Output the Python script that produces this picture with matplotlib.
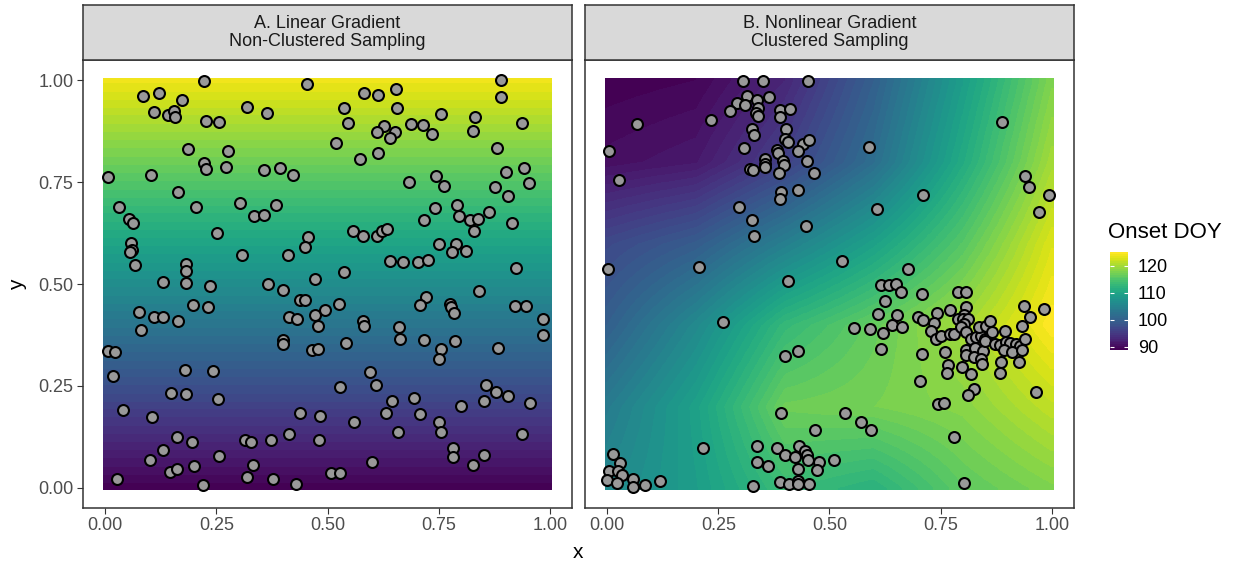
import numpy as np
import matplotlib
matplotlib.use("Agg")
import matplotlib.pyplot as plt
from matplotlib.patches import Rectangle
from matplotlib.colors import Normalize
from matplotlib.cm import ScalarMappable

plt.rcParams['font.family'] = ['Liberation Sans', 'DejaVu Sans']

# sample sites, panel A (non-clustered)
a_sites = [
    (0.223, 0.999), (0.453, 0.991), (0.084, 0.962), (0.121, 0.970), (0.172, 0.952),
    (0.110, 0.923), (0.142, 0.916), (0.155, 0.925), (0.157, 0.911), (0.318, 0.935),
    (0.363, 0.921), (0.227, 0.900), (0.255, 0.898), (0.187, 0.832), (0.277, 0.826),
    (0.223, 0.797), (0.227, 0.782), (0.271, 0.787), (0.007, 0.763), (0.102, 0.768),
    (0.358, 0.779), (0.393, 0.785), (0.423, 0.767), (0.164, 0.725), (0.031, 0.688),
    (0.204, 0.689), (0.304, 0.698), (0.384, 0.693), (0.335, 0.668), (0.358, 0.669),
    (0.053, 0.660), (0.062, 0.649), (0.252, 0.625), (0.457, 0.615), (0.450, 0.591),
    (0.057, 0.600), (0.061, 0.584), (0.056, 0.578), (0.307, 0.571), (0.411, 0.571),
    (0.066, 0.547), (0.181, 0.550), (0.181, 0.533), (0.473, 0.513), (0.131, 0.504),
    (0.181, 0.503), (0.236, 0.495), (0.367, 0.501), (0.401, 0.486),
    (0.891, 1.000), (0.890, 0.958), (0.581, 0.968), (0.614, 0.963), (0.654, 0.978),
    (0.656, 0.931), (0.538, 0.931), (0.547, 0.896), (0.628, 0.888), (0.611, 0.873),
    (0.651, 0.873), (0.640, 0.859), (0.688, 0.892), (0.715, 0.890), (0.734, 0.869),
    (0.755, 0.918), (0.831, 0.909), (0.827, 0.875), (0.938, 0.895), (0.518, 0.847),
    (0.613, 0.822), (0.574, 0.808), (0.882, 0.833), (0.901, 0.776), (0.941, 0.785),
    (0.953, 0.749), (0.877, 0.738), (0.906, 0.715), (0.684, 0.750), (0.744, 0.764),
    (0.762, 0.741), (0.741, 0.687), (0.791, 0.693), (0.796, 0.667), (0.820, 0.656),
    (0.839, 0.660), (0.863, 0.678), (0.829, 0.630), (0.914, 0.651), (0.718, 0.656),
    (0.558, 0.631), (0.580, 0.617), (0.611, 0.618), (0.622, 0.629), (0.634, 0.635),
    (0.751, 0.599), (0.790, 0.599), (0.779, 0.578), (0.811, 0.582), (0.641, 0.557),
    (0.669, 0.553), (0.704, 0.554), (0.727, 0.560), (0.925, 0.540), (0.536, 0.529),
    (0.439, 0.460), (0.450, 0.460), (0.197, 0.449), (0.232, 0.443), (0.077, 0.431),
    (0.109, 0.418), (0.131, 0.418), (0.164, 0.408), (0.080, 0.387), (0.414, 0.418),
    (0.432, 0.414), (0.472, 0.425), (0.494, 0.437), (0.479, 0.398), (0.400, 0.363),
    (0.401, 0.352), (0.466, 0.337), (0.478, 0.340), (0.007, 0.336), (0.023, 0.334),
    (0.018, 0.275), (0.180, 0.290), (0.243, 0.287), (0.149, 0.233), (0.181, 0.230),
    (0.253, 0.218), (0.041, 0.190), (0.105, 0.174), (0.438, 0.184), (0.483, 0.176),
    (0.161, 0.124), (0.196, 0.113), (0.314, 0.118), (0.328, 0.113), (0.372, 0.117),
    (0.414, 0.132), (0.480, 0.116), (0.131, 0.092), (0.101, 0.067), (0.256, 0.077),
    (0.146, 0.038), (0.162, 0.045), (0.199, 0.052), (0.333, 0.055), (0.320, 0.026),
    (0.377, 0.021), (0.429, 0.008), (0.219, 0.007), (0.027, 0.020),
    (0.840, 0.482), (0.721, 0.468), (0.707, 0.448), (0.776, 0.450), (0.778, 0.444),
    (0.784, 0.430), (0.921, 0.446), (0.946, 0.447), (0.985, 0.414), (0.985, 0.375),
    (0.526, 0.452), (0.580, 0.408), (0.581, 0.398), (0.661, 0.395), (0.662, 0.366),
    (0.718, 0.362), (0.755, 0.340), (0.751, 0.317), (0.786, 0.360), (0.883, 0.342),
    (0.542, 0.356), (0.596, 0.285), (0.610, 0.252), (0.527, 0.248), (0.644, 0.213),
    (0.632, 0.184), (0.695, 0.221), (0.709, 0.181), (0.751, 0.162), (0.756, 0.136),
    (0.800, 0.200), (0.857, 0.251), (0.880, 0.236), (0.907, 0.226), (0.853, 0.212),
    (0.956, 0.209), (0.559, 0.160), (0.659, 0.136), (0.937, 0.132), (0.783, 0.098),
    (0.782, 0.074), (0.852, 0.081), (0.827, 0.055), (0.601, 0.063), (0.507, 0.035),
    (0.527, 0.035),
]

# sample sites, panel B (clustered)
b_sites = [
    (0.306, 0.999), (0.351, 0.999), (0.451, 0.998), (0.315, 0.962), (0.336, 0.952),
    (0.365, 0.960), (0.293, 0.944), (0.311, 0.940), (0.277, 0.926), (0.339, 0.933),
    (0.334, 0.919), (0.339, 0.912), (0.388, 0.927), (0.412, 0.930), (0.388, 0.911),
    (0.233, 0.902), (0.066, 0.893), (0.325, 0.880), (0.330, 0.865), (0.402, 0.880),
    (0.401, 0.857), (0.407, 0.849), (0.440, 0.844), (0.453, 0.853), (0.429, 0.827),
    (0.308, 0.833), (0.383, 0.828), (0.384, 0.822), (0.005, 0.826), (0.355, 0.807),
    (0.354, 0.795), (0.354, 0.787), (0.395, 0.801), (0.397, 0.791), (0.450, 0.803),
    (0.465, 0.772), (0.321, 0.782), (0.327, 0.780), (0.387, 0.772), (0.026, 0.756),
    (0.392, 0.726), (0.388, 0.709), (0.430, 0.730), (0.297, 0.690), (0.326, 0.657),
    (0.330, 0.617), (0.447, 0.643), (0.001, 0.538), (0.207, 0.541), (0.407, 0.508),
    (0.887, 0.898), (0.589, 0.836), (0.940, 0.764), (0.948, 0.739), (0.994, 0.718),
    (0.971, 0.677), (0.711, 0.719), (0.606, 0.683), (0.528, 0.557), (0.676, 0.536),
    (0.260, 0.407), (0.401, 0.323), (0.430, 0.336), (0.392, 0.184), (0.468, 0.142),
    (0.215, 0.098), (0.013, 0.083), (0.028, 0.061), (0.005, 0.040), (0.024, 0.040),
    (0.033, 0.032), (0.000, 0.019), (0.022, 0.012), (0.058, 0.020), (0.057, 0.002),
    (0.085, 0.007), (0.119, 0.017), (0.327, 0.005), (0.336, 0.102), (0.336, 0.064),
    (0.361, 0.054), (0.382, 0.097), (0.399, 0.080), (0.423, 0.074), (0.432, 0.102),
    (0.444, 0.089), (0.450, 0.080), (0.451, 0.069), (0.476, 0.064), (0.471, 0.043),
    (0.429, 0.046), (0.388, 0.015), (0.408, 0.010), (0.430, 0.017), (0.430, 0.009),
    (0.453, 0.009), (0.510, 0.069),
    (0.615, 0.497), (0.633, 0.497), (0.649, 0.500), (0.661, 0.481), (0.707, 0.475),
    (0.788, 0.481), (0.807, 0.481), (0.624, 0.459), (0.609, 0.427), (0.651, 0.423),
    (0.556, 0.391), (0.591, 0.390), (0.621, 0.380), (0.641, 0.400), (0.664, 0.395),
    (0.615, 0.340), (0.699, 0.420), (0.711, 0.412), (0.741, 0.430), (0.734, 0.405),
    (0.729, 0.385), (0.772, 0.435), (0.807, 0.443), (0.803, 0.423), (0.788, 0.413),
    (0.800, 0.413), (0.811, 0.414), (0.803, 0.402), (0.739, 0.366), (0.751, 0.373),
    (0.771, 0.377), (0.781, 0.377), (0.795, 0.394), (0.806, 0.381), (0.819, 0.365),
    (0.830, 0.369), (0.841, 0.373), (0.849, 0.366), (0.837, 0.394), (0.851, 0.398),
    (0.862, 0.408), (0.866, 0.381), (0.807, 0.338), (0.806, 0.325), (0.828, 0.342),
    (0.826, 0.321), (0.845, 0.336), (0.841, 0.315), (0.843, 0.303), (0.850, 0.359),
    (0.872, 0.352), (0.883, 0.350), (0.896, 0.357), (0.907, 0.354), (0.919, 0.352),
    (0.928, 0.348), (0.895, 0.385), (0.892, 0.337), (0.911, 0.333), (0.934, 0.337),
    (0.939, 0.365), (0.934, 0.396), (0.952, 0.420), (0.937, 0.446), (0.982, 0.439),
    (0.927, 0.308), (0.885, 0.308), (0.884, 0.281), (0.760, 0.334), (0.709, 0.329),
    (0.766, 0.302), (0.764, 0.282), (0.797, 0.296), (0.819, 0.278), (0.703, 0.263),
    (0.826, 0.242), (0.811, 0.228), (0.964, 0.235), (0.743, 0.205), (0.757, 0.208),
    (0.534, 0.183), (0.571, 0.160), (0.594, 0.142), (0.779, 0.125), (0.803, 0.012),
]

# onset DOY surface
a_field_y = [0.0, 0.5, 1.0]
a_field_doy = [89.0, 106.5, 124.0]

b_field_x = [0.0, 0.2, 0.4, 0.6, 0.8, 1.0]
b_field_y = [0.0, 0.2, 0.4, 0.6, 0.8, 1.0]
b_field_doy = [  # rows go bottom (y=0) to top (y=1)
    [106.0, 109.0, 113.5, 112.0, 116.0, 118.0],
    [104.0, 109.5, 117.0, 117.5, 118.5, 121.5],
    [100.0, 106.0, 113.0, 116.5, 120.0, 125.0],
    [97.0, 99.5, 104.5, 109.5, 115.5, 123.0],
    [90.5, 91.5, 96.0, 102.0, 111.0, 120.0],
    [89.0, 89.5, 93.0, 100.0, 109.0, 118.0],
]

doy_min, doy_max = 88.8, 125.2
cbar_ticks = [90, 100, 110, 120]
axis_ticks = [0.0, 0.25, 0.5, 0.75, 1.0]
axis_ticklabels = ["0.00", "0.25", "0.50", "0.75", "1.00"]
strip_titles = ["A. Linear Gradient\nNon-Clustered Sampling",
                "B. Nonlinear Gradient\nClustered Sampling"]

W, H = 1235, 565
fig = plt.figure(figsize=(W / 100, H / 100), dpi=100)

cmap = matplotlib.colormaps['viridis'].resampled(52)
norm = Normalize(vmin=doy_min, vmax=doy_max)
frame_col = '#333333'
text_col = '#4D4D4D'


def fig_rect(x0, y0, x1, y1):
    # pixel box (top-left origin) -> figure fraction rect
    return [x0 / W, 1 - y1 / H, (x1 - x0) / W, (y1 - y0) / H]


panel_px = [(83, 60, 572, 508), (585, 60, 1074, 508)]
axes = []
for i, (x0, y0, x1, y1) in enumerate(panel_px):
    ax = fig.add_axes(fig_rect(x0, y0, x1, y1))
    ax.set_xlim(-0.05, 1.05)
    ax.set_ylim(-0.05, 1.05)
    for sp in ax.spines.values():
        sp.set_color(frame_col)
        sp.set_linewidth(1.1)
    ax.set_xticks(axis_ticks)
    ax.set_xticklabels(axis_ticklabels)
    ax.tick_params(axis='both', length=4.3, width=0.8, color=frame_col,
                   labelcolor=text_col, labelsize=13, pad=2.5)
    if i == 0:
        ax.set_yticks(axis_ticks)
        ax.set_yticklabels(axis_ticklabels)
    else:
        ax.set_yticks([])
    axes.append(ax)

    # strip on top
    sx = fig.add_axes(fig_rect(x0, 5, x1, y0))
    sx.set_facecolor('#D9D9D9')
    sx.set_xticks([])
    sx.set_yticks([])
    for sp in sx.spines.values():
        sp.set_color(frame_col)
        sp.set_linewidth(1.1)
    sx.text(0.5, 0.5, strip_titles[i], ha='center', va='center',
            fontsize=13, color='#1A1A1A', linespacing=1.15, transform=sx.transAxes)

# panel A raster
axA, axB = axes
half = (a_field_y[1] - a_field_y[0]) / 2
imA = axA.imshow(np.array(a_field_doy)[:, None], origin='lower', cmap=cmap, norm=norm,
                 extent=[-0.01, 1.01, a_field_y[0] - half, a_field_y[-1] + half],
                 aspect='auto', interpolation='bilinear', interpolation_stage='data')
imA.set_clip_path(Rectangle((-0.005, -0.005), 1.01, 1.01, transform=axA.transData))

# panel B raster
hx = (b_field_x[1] - b_field_x[0]) / 2
hy = (b_field_y[1] - b_field_y[0]) / 2
imB = axB.imshow(np.array(b_field_doy), origin='lower', cmap=cmap, norm=norm,
                 extent=[b_field_x[0] - hx, b_field_x[-1] + hx, b_field_y[0] - hy, b_field_y[-1] + hy],
                 aspect='auto', interpolation='bilinear', interpolation_stage='data')
imB.set_clip_path(Rectangle((-0.005, -0.005), 1.01, 1.01, transform=axB.transData))

for ax, sites in [(axA, a_sites), (axB, b_sites)]:
    pts = np.array(sites)
    ax.scatter(pts[:, 0], pts[:, 1], s=62, facecolor='#999999', edgecolor='black',
               linewidths=1.5, zorder=3)
    ax.set_xlim(-0.05, 1.05)
    ax.set_ylim(-0.05, 1.05)

fig.text(578 / W, 1 - 552 / H, 'x', ha='center', va='center', fontsize=15)
fig.text(18 / W, 1 - 285 / H, 'y', ha='center', va='center', fontsize=15, rotation=90)

# colour bar legend
cax = fig.add_axes(fig_rect(1110, 252, 1128, 350))
cb = fig.colorbar(ScalarMappable(norm=norm, cmap=cmap), cax=cax, ticks=cbar_ticks)
cb.outline.set_visible(False)
cax.yaxis.set_ticks_position('both')
cax.tick_params(axis='y', direction='in', color='white', length=3, width=0.8,
                labelsize=13, labelcolor='black', pad=7, labelleft=False, labelright=True)
fig.text(1108 / W, 1 - 232 / H, 'Onset DOY', ha='left', va='center', fontsize=16)

fig.savefig('out.png', dpi=100)
